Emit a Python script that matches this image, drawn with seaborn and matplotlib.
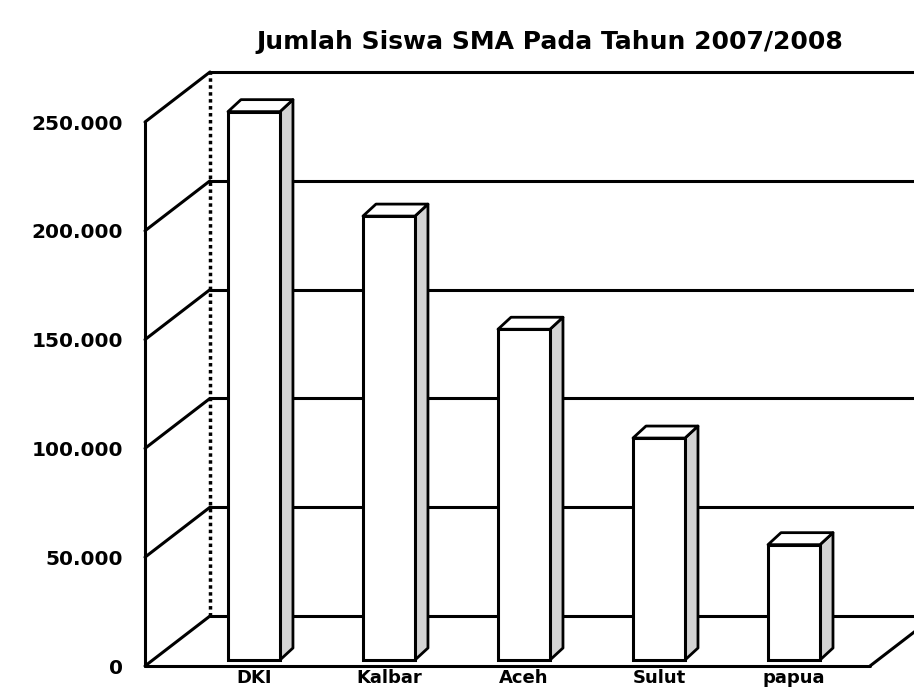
import matplotlib
matplotlib.use("Agg")
import matplotlib.pyplot as plt
import seaborn as sns
import numpy as np
from matplotlib.patches import Polygon
from matplotlib.transforms import ScaledTranslation

# ---- data ----
categories = ["DKI", "Kalbar", "Aceh", "Sulut", "papua"]
values = [252000, 204000, 152000, 102000, 53000]
yticks = [0, 50000, 100000, 150000, 200000, 250000]
ytick_labels = ["0", "50.000", "100.000", "150.000", "200.000", "250.000"]
title = "Jumlah Siswa SMA Pada Tahun 2007/2008"

sns.set_theme(style="white")
plt.rcParams["font.family"] = ["DejaVu Sans"]

fig = plt.figure(figsize=(9.14, 6.96), dpi=100)
fig.patch.set_facecolor("white")
ax = fig.add_axes([145 / 914, 30 / 696, 725 / 914, 544 / 696])
ax.set_facecolor("none")

sns.barplot(x=categories, y=values, color="white", saturation=1,
            edgecolor="black", linewidth=2.2, width=0.385, ax=ax, zorder=5)
bars = list(ax.patches)

ax.set_xlim(-0.733, 4.637)
ax.set_ylim(0, 250000)
for s in ax.spines.values():
    s.set_visible(False)
ax.set_xlabel("")
ax.set_ylabel("")
ax.set_yticks(yticks, ytick_labels)
ax.tick_params(axis="y", length=0, pad=16, labelsize=14.5)
ax.tick_params(axis="x", length=0, pad=2, labelsize=13)
for lbl in ax.get_yticklabels() + ax.get_xticklabels():
    lbl.set_fontweight("bold")
    lbl.set_color("black")

to_disp = ax.transData.transform
inv = ax.transData.inverted()


def off(x, y, dx, dy):
    p = to_disp((x, y)) + np.array([dx, dy])
    return tuple(inv.transform(p))


WX, WY = 65, 50      # wall depth offset in pixels
BX, BY = 10, 6       # bar front offset
DX, DY = 13, 12      # bar depth

xmin, xmax = ax.get_xlim()
ytop = yticks[-1]
lw = 2.2
kw = dict(color="black", lw=lw, clip_on=False, solid_capstyle="round")

# walls fills
ax.add_patch(Polygon([(xmin, 0), (xmin, ytop), off(xmin, ytop, WX, WY), off(xmin, 0, WX, WY)],
                     closed=True, facecolor="white", edgecolor="none", zorder=0, clip_on=False))
ax.add_patch(Polygon([(xmin, 0), (xmax, 0), off(xmax, 0, WX, WY), off(xmin, 0, WX, WY)],
                     closed=True, facecolor="white", edgecolor="none", zorder=0, clip_on=False))


def seg(a, b, **extra):
    k = dict(kw)
    k.update(extra)
    ax.plot([a[0], b[0]], [a[1], b[1]], zorder=k.pop("zorder", 2), **k)


seg((xmin, 0), (xmin, ytop))
seg((xmin, ytop), off(xmin, ytop, WX, WY))
seg(off(xmin, 0, WX, WY), off(xmin, ytop, WX, WY), linestyle=(0, (1, 1)), lw=2.5)
seg(off(xmin, ytop, WX, WY), off(xmax, ytop, WX, WY))
seg((xmin, 0), (xmax, 0), zorder=6)
seg((xmax, 0), off(xmax, 0, WX, WY), zorder=6)
seg((xmin, 0), off(xmin, 0, WX, WY))
seg(off(xmin, 0, WX, WY), off(xmax, 0, WX, WY))
for v in yticks[1:-1]:
    seg((xmin, v), off(xmin, v, WX, WY))
    seg(off(xmin, v, WX, WY), off(xmax, v, WX, WY))

# 3D bars
for p in bars:
    x0, w, h = p.get_x(), p.get_width(), p.get_height()
    fx0, fy0 = off(x0, 0, BX, BY)
    p.set_x(fx0)
    p.set_y(fy0)
    p.set_clip_on(False)
    BR = (fx0 + w, fy0)
    TR = (fx0 + w, fy0 + h)
    TL = (fx0, fy0 + h)
    side = Polygon([BR, TR, off(*TR, DX, DY), off(*BR, DX, DY)], closed=True,
                   facecolor="#d3d3d3", edgecolor="black", lw=2.0, zorder=4,
                   clip_on=False, joinstyle="round")
    top = Polygon([TL, TR, off(*TR, DX, DY), off(*TL, DX, DY)], closed=True,
                  facecolor="white", edgecolor="black", lw=2.0, zorder=4,
                  clip_on=False, joinstyle="round")
    ax.add_patch(side)
    ax.add_patch(top)

shift = ScaledTranslation(BX / 100, 0, fig.dpi_scale_trans)
for lbl in ax.get_xticklabels():
    lbl.set_transform(lbl.get_transform() + shift)

fig.text(550 / 914, 1 - 42 / 696, title, ha="center", va="center",
         fontsize=18, fontweight="bold", color="black")

fig.savefig("out.png", dpi=100, facecolor="white")
